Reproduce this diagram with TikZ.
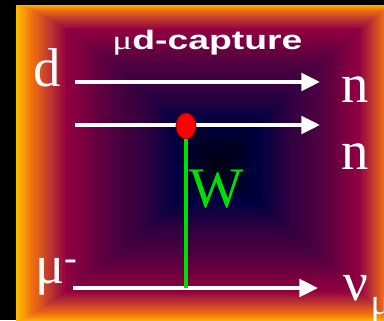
\documentclass[tikz,border=0pt]{standalone}
\usepackage{fontspec}
\setmainfont{Liberation Serif}
\newfontfamily\titlefont{Liberation Sans}
\usetikzlibrary{arrows.meta,shapes.geometric}

\definecolor{gyellow}{HTML}{FFB800}
\definecolor{gorange}{HTML}{F07010}
\definecolor{gbrick}{HTML}{C03830}
\definecolor{gcrimson}{HTML}{900040}
\definecolor{gplum}{HTML}{500040}
\definecolor{gpurple}{HTML}{300040}
\definecolor{gnavy}{HTML}{000040}
\definecolor{gcore}{HTML}{000012}
\definecolor{wgreen}{HTML}{00E000}
\definecolor{vtxred}{HTML}{FF0000}

\tikzset{
  fermion/.style={white, line width=2.8pt, -{Triangle[length=14pt,width=13pt]}},
  lbl/.style={white, inner sep=0pt, anchor=base west, font=\fontsize{41}{41}\selectfont},
  boson/.style={wgreen, line width=2.8pt},
}

\begin{document}
\begin{tikzpicture}[x=0.75pt, y=-0.75pt]

  % frame and background
  \fill[black] (0,0) rectangle (384,320);
  \useasboundingbox (0,0) rectangle (384,320);

  % box gradient: nested rectangles, edge -> centre
  \begin{scope}
    \clip (16,5) rectangle (384,320);
    \fill[gyellow] (16,5) rectangle (394,322);
    \foreach \a/\b/\ca/\cb in {0/0.05/gyellow/gorange, 0.05/0.12/gorange/gbrick,
                              0.12/0.2/gbrick/gcrimson, 0.2/0.42/gcrimson/gplum,
                              0.42/0.6/gplum/gpurple, 0.6/0.78/gpurple/gnavy,
                              0.78/1/gnavy/gcore}{
      \foreach \j in {1,...,12}{
        \pgfmathsetmacro{\s}{\a+(\b-\a)*\j/12}
        \pgfmathsetmacro{\sl}{pow(\s,0.85)}
        \pgfmathsetmacro{\st}{pow(\s,1.15)}
        \pgfmathsetmacro{\p}{100*\j/12}
        \fill[\cb!\p!\ca] (16+197*\sl, 5+155*\st) rectangle (394-171*\s, 322-152*\s);
      }
    }
  \end{scope}

  % title
  \node[white, inner sep=0pt, anchor=base west, xscale=1.4,
        font=\titlefont\bfseries\fontsize{20}{20}\selectfont] (title) at (112,50)
        {{\rmfamily\mdseries μ}d-capture};

  % particle labels
  \node[lbl] (d)  at (33,87)   {d};
  \node[lbl] (n1) at (341,103) {n};
  \node[lbl] (n2) at (341,169) {n};
  \node[lbl] (mu) at (35,283)  {μ\textsuperscript{-}};
  \node[lbl] (nu) at (343,300)
        {ν\kern2pt\raisebox{-11pt}{\fontsize{28}{28}\selectfont μ}};

  % lines
  \coordinate (dIn)   at (75,82);
  \coordinate (dOut)  at (320,82);
  \coordinate (pIn)   at (75,125);
  \coordinate (pOut)  at (320,125);
  \coordinate (muIn)  at (73,288);
  \coordinate (nuOut) at (318,288);
  \coordinate (wEnd)  at (186,288);

  \draw[fermion] (dIn) -- (dOut);
  \draw[fermion] (pIn) -- (pOut);
  \draw[fermion] (muIn) -- (nuOut);

  % W exchange
  \node[ellipse, fill=vtxred, draw=vtxred!55!black, line width=0.6pt,
        minimum width=15pt, minimum height=19.5pt, inner sep=0pt] (vtx) at (186,126) {};
  \draw[boson] (vtx.south) -- (wEnd);
  \node[lbl, wgreen, font=\fontsize{43}{43}\selectfont] (w) at (189,207) {W};

\end{tikzpicture}
\end{document}
